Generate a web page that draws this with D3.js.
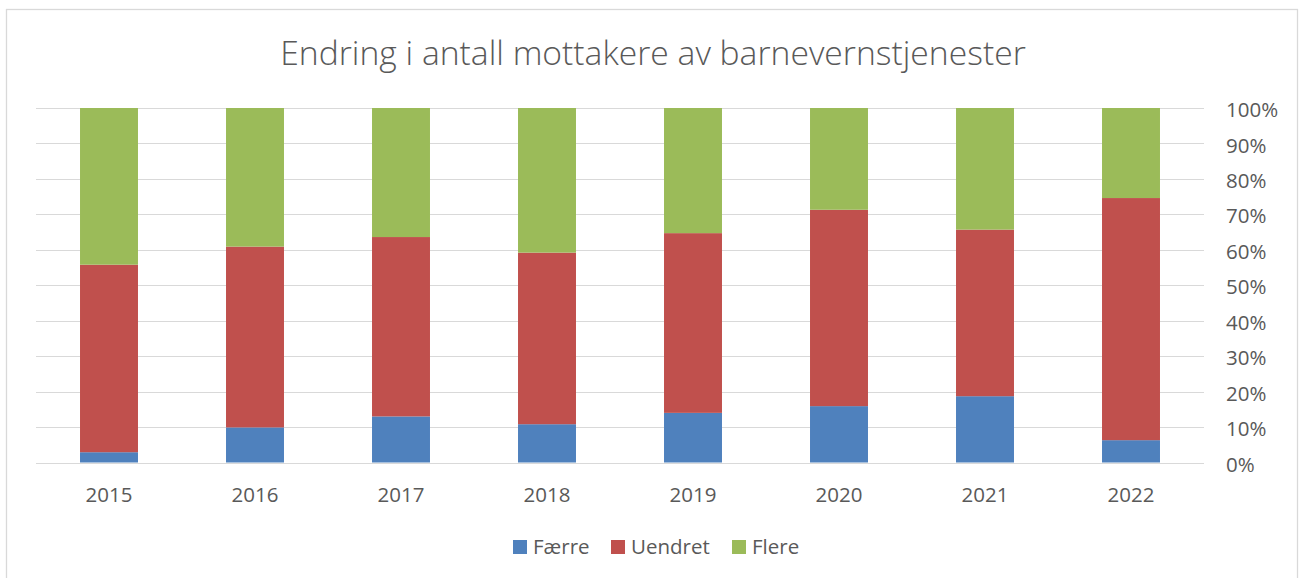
<!DOCTYPE html>
<html><head><meta charset="utf-8">
<script src="https://cdn.jsdelivr.net/npm/d3@7"></script>
<style>body{margin:0;background:#fff}svg{display:block}</style>
</head><body>
<script>
const years = ["2015","2016","2017","2018","2019","2020","2021","2022"];
const faerre  = [2.9, 9.9, 13.0, 10.8, 14.0, 15.9, 18.7, 6.3];
const uendret = [52.9, 51.0, 50.6, 48.4, 50.7, 55.4, 47.0, 68.3];
const flere   = [44.2, 39.1, 36.4, 40.8, 35.3, 28.7, 34.3, 25.4];
const seriesNames = ["Færre","Uendret","Flere"];
const colors = ["#4f81bd","#c0504d","#9bbb59"];
const yTicks = [0,10,20,30,40,50,60,70,80,90,100];
const title = "Endring i antall mottakere av barnevernstjenester";

const W=1304,H=578;
const svg=d3.select("body").append("svg").attr("width",W).attr("height",H);
svg.append("rect").attr("x",6.5).attr("y",9.5).attr("width",1291).attr("height",H).attr("fill","#fff").attr("stroke","#d9d9d9").attr("stroke-width",1.3);

const font="'Open Sans', sans-serif";
const fs=20.5;
const x=d3.scaleBand().domain(years).range([36,1204]).paddingInner(0.603).paddingOuter(0.3015);
const y=d3.scaleLinear().domain([0,100]).range([462.5,108]);

// gridlines
svg.append("g").selectAll("line").data(yTicks).join("line")
 .attr("x1",36).attr("x2",1204).attr("y1",d=>Math.round(y(d))+0.5).attr("y2",d=>Math.round(y(d))+0.5)
 .attr("stroke","#d9d9d9").attr("stroke-width",1);

// right axis labels
const yAxis=d3.axisRight(y).tickValues(yTicks).tickFormat(d=>d+"%").tickSize(0).tickPadding(0);
const ga=svg.append("g").attr("transform","translate(1226,0)").call(yAxis);
ga.select(".domain").remove();
ga.selectAll("text").attr("font-family",font).attr("font-size",fs).attr("fill","#595959").attr("dy",8.6);

// stacked data
const rows=years.map((yr,i)=>({year:yr,"Færre":faerre[i],"Uendret":uendret[i],"Flere":flere[i]}));
const stack=d3.stack().keys(seriesNames)(rows);
svg.append("g").selectAll("g").data(stack).join("g").attr("fill",(d,i)=>colors[i])
 .selectAll("rect").data(d=>d).join("rect")
 .attr("x",d=>x(d.data.year)).attr("width",x.bandwidth())
 .attr("y",d=>y(d[1])).attr("height",d=>y(d[0])-y(d[1]));

// x axis labels
const xAxis=d3.axisBottom(x).tickSize(0).tickPadding(0);
const gx=svg.append("g").attr("transform","translate(0,501.5)").call(xAxis);
gx.select(".domain").remove();
gx.selectAll("text").attr("font-family",font).attr("font-size",fs).attr("fill","#595959").attr("dy",0).attr("y",0);

// title
const t=svg.append("text").attr("x",653).attr("y",65).attr("text-anchor","middle")
 .attr("font-family",font).attr("font-size",31).attr("font-weight",300).attr("fill","#595959").text(title);
const tl=t.node().getComputedTextLength();
if(tl>0) t.attr("font-size",31*746/tl);

// legend
const legX=[513,611,732];
const lg=svg.append("g");
seriesNames.forEach((n,i)=>{
  lg.append("rect").attr("x",legX[i]).attr("y",540).attr("width",14).attr("height",14).attr("fill",colors[i]);
  lg.append("text").attr("x",legX[i]+20).attr("y",554)
   .attr("font-family",font).attr("font-size",fs).attr("fill","#595959").text(n);
});
</script>
</body></html>
